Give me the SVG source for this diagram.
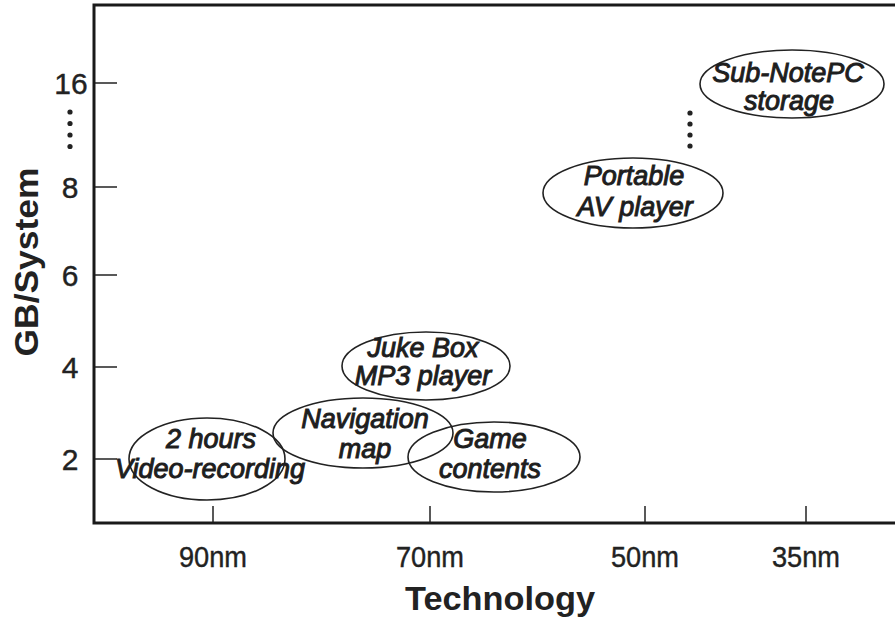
<svg xmlns="http://www.w3.org/2000/svg" width="895" height="625" viewBox="0 0 895 625">
  <style>
    .axis { stroke: #1a1a1a; stroke-width: 3; fill: none; }
    .tick { stroke: #222; stroke-width: 1.5; }
    .num { font-family: "Liberation Sans", Arial, sans-serif; font-size: 29px; fill: #222; stroke: #222; stroke-width: 0.4; text-anchor: middle; }
    .ynum { font-size: 30px; }
    .title { font-family: "Liberation Sans", Arial, sans-serif; font-size: 33px; font-weight: bold; fill: #222; text-anchor: middle; }
    .bubble ellipse { fill: none; stroke: #222; stroke-width: 1.6; }
    .bubble text { font-family: "Liberation Sans", Arial, sans-serif; font-size: 27px; font-style: italic; fill: #1e1e1e; stroke: #1e1e1e; stroke-width: 1; text-anchor: middle; }
    .dot { fill: #222; }
  </style>

  <rect width="895" height="625" fill="#ffffff"/>

  <!-- frame -->
  <g id="axes">
    <path class="axis" d="M895,5 H94 V523 H895"/>
    <!-- y ticks -->
    <line class="tick" x1="95" y1="83" x2="117" y2="83"/>
    <line class="tick" x1="95" y1="187" x2="117" y2="187"/>
    <line class="tick" x1="95" y1="275" x2="117" y2="275"/>
    <line class="tick" x1="95" y1="367" x2="117" y2="367"/>
    <line class="tick" x1="95" y1="459" x2="117" y2="459"/>
    <!-- x ticks -->
    <line class="tick" x1="213" y1="506" x2="213" y2="522"/>
    <line class="tick" x1="430" y1="506" x2="430" y2="522"/>
    <line class="tick" x1="645" y1="506" x2="645" y2="522"/>
    <line class="tick" x1="806" y1="506" x2="806" y2="522"/>
  </g>

  <g id="y-labels">
    <text class="num ynum" x="71" y="94">16</text>
    <text class="num ynum" x="70" y="198">8</text>
    <text class="num ynum" x="70" y="286">6</text>
    <text class="num ynum" x="70" y="378">4</text>
    <text class="num ynum" x="70" y="470">2</text>
    <circle class="dot" cx="70" cy="112" r="2.6"/>
    <circle class="dot" cx="70" cy="123.5" r="2.6"/>
    <circle class="dot" cx="70" cy="135" r="2.6"/>
    <circle class="dot" cx="70" cy="146.5" r="2.6"/>
    <text class="title" transform="translate(38,262) rotate(-90)" textLength="189" lengthAdjust="spacingAndGlyphs">GB/System</text>
  </g>

  <g id="x-labels">
    <text class="num" x="213" y="567" textLength="68" lengthAdjust="spacingAndGlyphs">90nm</text>
    <text class="num" x="430" y="567" textLength="68" lengthAdjust="spacingAndGlyphs">70nm</text>
    <text class="num" x="645" y="567" textLength="68" lengthAdjust="spacingAndGlyphs">50nm</text>
    <text class="num" x="806" y="567" textLength="68" lengthAdjust="spacingAndGlyphs">35nm</text>
    <text class="title" x="500" y="610" textLength="190" lengthAdjust="spacingAndGlyphs">Technology</text>
  </g>

  <!-- applications -->
  <g id="sub-notepc" class="bubble">
    <ellipse cx="792" cy="84" rx="92" ry="34"/>
    <text x="788" y="82">Sub-NotePC</text>
    <text x="789" y="110">storage</text>
  </g>

  <g id="continuation-dots">
    <circle class="dot" cx="690" cy="113" r="2.6"/>
    <circle class="dot" cx="690" cy="124" r="2.6"/>
    <circle class="dot" cx="690" cy="135" r="2.6"/>
    <circle class="dot" cx="690" cy="146" r="2.6"/>
  </g>

  <g id="portable-av" class="bubble">
    <ellipse cx="633" cy="193" rx="90" ry="35"/>
    <text x="634" y="185">Portable</text>
    <text x="635" y="216">AV player</text>
  </g>

  <g id="jukebox" class="bubble">
    <ellipse cx="426" cy="366" rx="84" ry="34"/>
    <text x="423" y="357">Juke Box</text>
    <text x="423" y="385">MP3 player</text>
  </g>

  <g id="navigation" class="bubble">
    <ellipse cx="363" cy="433" rx="90" ry="35"/>
    <text x="365" y="428">Navigation</text>
    <text x="365" y="458">map</text>
  </g>

  <g id="video-recording" class="bubble">
    <ellipse cx="207" cy="459" rx="78" ry="41"/>
    <text x="211" y="448">2 hours</text>
    <text x="210" y="478">Video-recording</text>
  </g>

  <g id="game" class="bubble">
    <ellipse cx="494" cy="457" rx="86" ry="35"/>
    <text x="490" y="448">Game</text>
    <text x="490" y="478">contents</text>
  </g>
</svg>
